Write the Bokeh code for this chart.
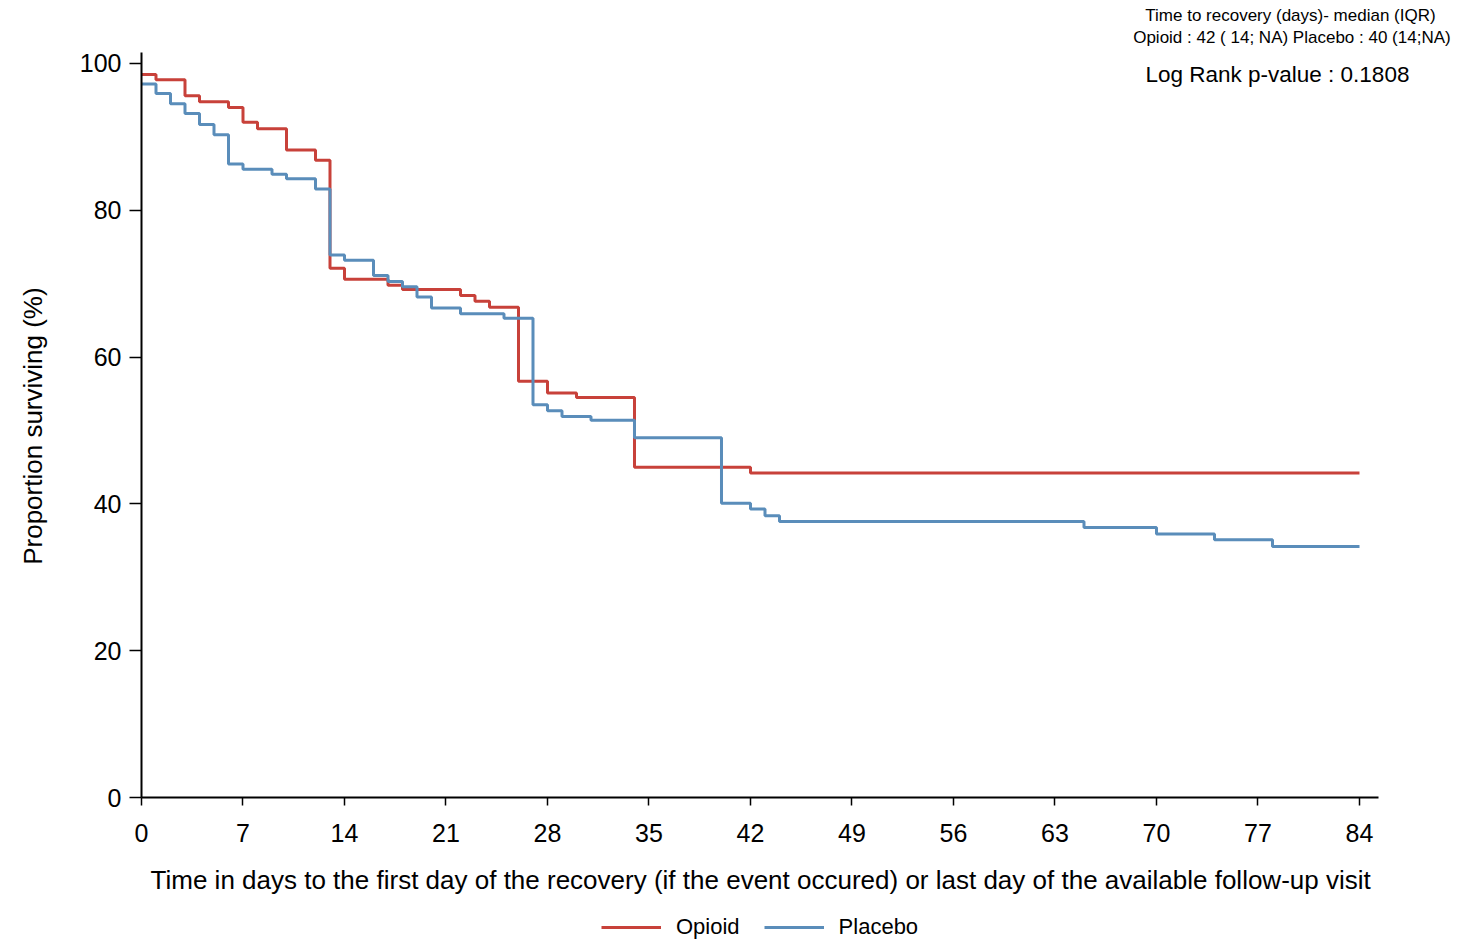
import math
from bokeh.plotting import figure
from bokeh.models import Range1d, FixedTicker, Label, Legend, LegendItem
from bokeh.embed import file_html
from bokeh.resources import INLINE

# --- data ---
opioid_days = [0, 1, 3, 4, 6, 7, 8, 10, 12, 13, 14, 17, 18, 22, 23, 24, 26, 28, 30, 34, 42, 84]
opioid_surv = [98.5, 97.8, 95.6, 94.8, 94.0, 92.0, 91.1, 88.2, 86.8, 72.1, 70.6, 69.8, 69.2,
               68.4, 67.6, 66.8, 56.7, 55.1, 54.5, 45.0, 44.2, 44.2]

placebo_days = [0, 1, 2, 3, 4, 5, 6, 7, 9, 10, 12, 13, 14, 16, 17, 18, 19, 20, 22, 25, 27, 28,
                29, 31, 34, 40, 42, 43, 44, 65, 70, 74, 78, 84]
placebo_surv = [97.2, 95.9, 94.5, 93.2, 91.7, 90.3, 86.3, 85.6, 84.9, 84.3, 82.9, 73.9, 73.2,
                71.1, 70.3, 69.6, 68.2, 66.7, 65.9, 65.3, 53.5, 52.7, 51.9, 51.4, 49.0, 40.1,
                39.3, 38.4, 37.6, 36.8, 35.9, 35.1, 34.2, 34.2]

x_ticks = [0, 7, 14, 21, 28, 35, 42, 49, 56, 63, 70, 77, 84]
y_ticks = [0, 20, 40, 60, 80, 100]

series_names = ["Opioid", "Placebo"]
x_label = "Time in days to the first day of the recovery (if the event occured) or last day of the available follow-up visit"
y_label = "Proportion surviving (%)"
title_line1 = "Time to recovery (days)- median (IQR)"
title_line2 = "Opioid : 42 ( 14; NA) Placebo : 40 (14;NA)"
pvalue_text = "Log Rank p-value : 0.1808"

FONT = "Liberation Sans"
RED = "#c8413a"
BLUE = "#5a8dba"

# The frame covers the whole canvas so that no text is clipped.
# Both axes are drawn at 0 (fixed_location) and their lines are limited with bounds.
p = figure(output_backend="svg", toolbar_location=None,
           x_range=Range1d(-9.724, 90.966), y_range=Range1d(-19.48, 108.58),
           frame_width=1460, frame_height=940,
           min_border_left=0, min_border_right=0, min_border_top=0, min_border_bottom=0)
p.outline_line_color = None
p.xgrid.visible = False
p.ygrid.visible = False

r1 = p.step(opioid_days, opioid_surv, mode="after", line_color=RED, line_width=3)
r2 = p.step(placebo_days, placebo_surv, mode="after", line_color=BLUE, line_width=3)

for ax in (p.xaxis[0], p.yaxis[0]):
    ax.fixed_location = 0
    ax.axis_line_width = 2
    ax.axis_line_color = "black"
    ax.major_tick_line_color = "black"
    ax.major_tick_line_width = 1.5
    ax.minor_tick_line_color = None
    ax.major_label_text_font = FONT
    ax.major_label_text_font_size = "25px"
    ax.major_label_text_color = "black"

p.xaxis.bounds = (0, 85.3)
p.yaxis.bounds = (0, 101.5)
p.xaxis.ticker = FixedTicker(ticks=x_ticks)
p.yaxis.ticker = FixedTicker(ticks=y_ticks)
p.xaxis.major_tick_out = 8
p.xaxis.major_tick_in = 0
p.yaxis.major_tick_out = 12
p.yaxis.major_tick_in = 0
p.xaxis.major_label_standoff = 18
p.yaxis.major_label_standoff = 8

# axis titles
p.add_layout(Label(x=42.7, y=-11.17, text=x_label, text_font=FONT, text_font_size="26px",
                   text_color="black", text_align="center", text_baseline="middle"))
p.add_layout(Label(x=-7.45, y=50.6, text=y_label, angle=math.pi / 2, text_font=FONT,
                   text_font_size="26px", text_color="black", text_align="center",
                   text_baseline="middle"))

legend = Legend(items=[LegendItem(label=series_names[0], renderers=[r1]),
                       LegendItem(label=series_names[1], renderers=[r2])],
                orientation="horizontal", location=(601, 0))
legend.label_text_font = FONT
legend.label_text_font_size = "22px"
legend.label_text_color = "black"
legend.glyph_width = 60
legend.label_standoff = 15
legend.spacing = 24
legend.border_line_color = None
legend.background_fill_alpha = 0
legend.padding = 0
legend.margin = 0
p.add_layout(legend)

p.add_layout(Label(x=79.24, y=106.54, text=title_line1, text_font=FONT, text_font_size="17px",
                   text_color="black", text_align="center", text_baseline="middle"))
p.add_layout(Label(x=79.34, y=103.54, text=title_line2, text_font=FONT, text_font_size="17px",
                   text_color="black", text_align="center", text_baseline="middle"))
p.add_layout(Label(x=69.24, y=98.5, text=pvalue_text, text_font=FONT, text_font_size="22.5px",
                   text_color="black", text_align="left", text_baseline="middle"))

open("out.html", "w").write(file_html(p, INLINE))
